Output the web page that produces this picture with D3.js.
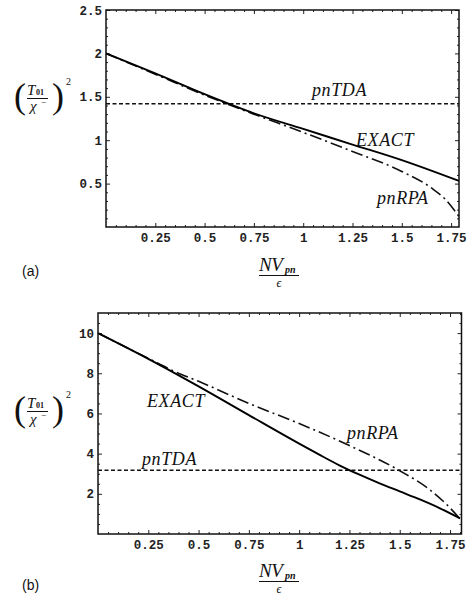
<!DOCTYPE html>
<html>
<head>
<meta charset="utf-8">
<script src="https://cdn.jsdelivr.net/npm/d3@7"></script>
<style>
  body { margin: 0; background: #fff; }
  svg { display: block; }
  .tick text { font-family: "Liberation Mono", "DejaVu Sans Mono", monospace; font-weight: bold; font-size: 12.5px; fill: #222; }
  .lbl { font-family: "Liberation Serif", "DejaVu Serif", serif; font-style: italic; font-size: 18px; fill: #111; }
  .tag { font-family: "Liberation Sans", Arial, sans-serif; font-size: 14px; fill: #111; }
</style>
</head>
<body>
<svg id="chart" width="473" height="595"></svg>
<script>
// panel (a)
const exactAX = [0, 0.25, 0.5, 0.75, 1.0, 1.25, 1.5, 1.79];
const exactAY = [2.0, 1.77, 1.53, 1.31, 1.13, 0.95, 0.77, 0.53];
const rpaAX = [0, 0.25, 0.5, 0.75, 1.0, 1.25, 1.5, 1.65, 1.72, 1.79];
const rpaAY = [2.0, 1.76, 1.52, 1.30, 1.09, 0.87, 0.64, 0.45, 0.32, 0.12];
const tdaA = 1.42;
const yTicksA = [0.5, 1, 1.5, 2, 2.5];

// panel (b)
const exactBX = [0, 0.25, 0.5, 0.75, 1.0, 1.1, 1.2, 1.3, 1.4, 1.5, 1.6, 1.7, 1.8];
const exactBY = [10, 8.72, 7.35, 5.92, 4.5, 3.95, 3.42, 2.95, 2.52, 2.12, 1.72, 1.28, 0.78];
const rpaBX = [0, 0.25, 0.37, 0.5, 0.75, 1.0, 1.25, 1.5, 1.65, 1.75, 1.8];
const rpaBY = [10, 8.74, 8.14, 7.6, 6.5, 5.5, 4.4, 3.15, 2.2, 1.3, 0.75];
const tdaB = 3.17;
const yTicksB = [2, 4, 6, 8, 10];

const xTicks = [0.25, 0.5, 0.75, 1, 1.25, 1.5, 1.75];

const svg = d3.select('#chart');

function zip(xs, ys) {
    return xs.map((x, i) => [x, ys[i]]);
}

function drawPanel(p) {
    const x = d3.scaleLinear().domain(p.xDom).range([p.left, p.right]);
    const y = d3.scaleLinear().domain(p.yDom).range([p.bottom, p.top]);
    const g = svg.append('g');

    // frame ticks, pointing inwards like Mathematica
    const fmt = d => String(d);
    const xMinor = d3.range(0.05, p.xDom[1], 0.05).filter(v => Math.abs(v / 0.25 - Math.round(v / 0.25)) > 1e-6);
    const yMinor = d3.range(p.yMinorStep, p.yDom[1], p.yMinorStep).filter(v => Math.abs(v / p.yMajorStep - Math.round(v / p.yMajorStep)) > 1e-6);

    const axes = [
        [d3.axisBottom(x).tickValues(xTicks).tickFormat(fmt).tickSize(-4).tickPadding(6), `translate(0,${p.bottom})`],
        [d3.axisBottom(x).tickValues(xMinor).tickFormat('').tickSize(-2), `translate(0,${p.bottom})`],
        [d3.axisTop(x).tickValues(xTicks).tickFormat('').tickSize(-4), `translate(0,${p.top})`],
        [d3.axisTop(x).tickValues(xMinor).tickFormat('').tickSize(-2), `translate(0,${p.top})`],
        [d3.axisLeft(y).tickValues(p.yTicks).tickFormat(fmt).tickSize(-4).tickPadding(4), `translate(${p.left},0)`],
        [d3.axisLeft(y).tickValues(yMinor).tickFormat('').tickSize(-2), `translate(${p.left},0)`],
        [d3.axisRight(y).tickValues(p.yTicks).tickFormat('').tickSize(-4), `translate(${p.right},0)`],
        [d3.axisRight(y).tickValues(yMinor).tickFormat('').tickSize(-2), `translate(${p.right},0)`]
    ];
    axes.forEach(([ax, tr]) => {
        const a = g.append('g').attr('transform', tr).call(ax);
        a.select('.domain').remove();
        a.selectAll('line').attr('stroke', '#222').attr('stroke-width', 1);
    });

    const line = d3.line().x(d => x(d[0])).y(d => y(d[1])).curve(d3.curveMonotoneX);

    g.append('line')
        .attr('x1', x(p.xDom[0])).attr('x2', x(p.xDom[1]))
        .attr('y1', y(p.tda)).attr('y2', y(p.tda))
        .attr('stroke', '#111').attr('stroke-width', 1.6).attr('stroke-dasharray', '4,2.5');

    g.append('path').datum(zip(p.rpaX, p.rpaY))
        .attr('d', line).attr('fill', 'none')
        .attr('stroke', '#111').attr('stroke-width', 1.6)
        .attr('stroke-dasharray', '12,4,2,4');

    g.append('path').datum(zip(p.exactX, p.exactY))
        .attr('d', line).attr('fill', 'none')
        .attr('stroke', '#000').attr('stroke-width', 1.9);

    g.append('rect')
        .attr('x', p.left).attr('y', p.top)
        .attr('width', p.right - p.left).attr('height', p.bottom - p.top)
        .attr('fill', 'none').attr('stroke', '#111').attr('stroke-width', 1.5);

    // curve labels
    p.labels.forEach(l => {
        g.append('text').attr('class', 'lbl')
            .attr('x', l.x).attr('y', l.y)
            .style('letter-spacing', '0.6px')
            .text(l.t);
    });

    // y axis title: (T01 / chi-)^2
    const yl = g.append('g').attr('transform', `translate(0,${p.yTitle})`);
    yl.append('text').attr('x', 14).attr('y', 11).attr('class', 'lbl')
        .style('font-style', 'normal').style('font-size', '36px').text('(');
    yl.append('text').attr('x', 52).attr('y', 11).attr('class', 'lbl')
        .style('font-style', 'normal').style('font-size', '36px').text(')');
    yl.append('text').attr('x', 27).attr('y', -2).attr('class', 'lbl')
        .style('font-size', '15px').text('T');
    yl.append('text').attr('x', 36).attr('y', -2).attr('class', 'lbl')
        .style('font-style', 'normal').style('font-weight', 'bold').style('font-size', '8px').text('01');
    yl.append('line').attr('x1', 27).attr('x2', 48).attr('y1', 1.5).attr('y2', 1.5)
        .attr('stroke', '#111').attr('stroke-width', 1);
    yl.append('text').attr('x', 30).attr('y', 14).attr('class', 'lbl')
        .style('font-size', '15px').text('χ');
    yl.append('text').attr('x', 41).attr('y', 8).attr('class', 'lbl')
        .style('font-style', 'normal').style('font-size', '9px').text('−');
    yl.append('text').attr('x', 66).attr('y', -12).attr('class', 'lbl')
        .style('font-style', 'normal').style('font-size', '10px').text('2');

    // x axis title: N V_pn / epsilon
    const xl = g.append('g').attr('transform', `translate(0,${p.xTitle})`);
    xl.append('text').attr('x', 259).attr('y', -3).attr('class', 'lbl')
        .style('font-size', '19px').style('letter-spacing', '-0.5px').text('NV');
    xl.append('text').attr('x', 285).attr('y', -1).attr('class', 'lbl')
        .style('font-weight', 'bold').style('font-size', '10px').text('pn');
    xl.append('line').attr('x1', 259).attr('x2', 299).attr('y1', 1.5).attr('y2', 1.5)
        .attr('stroke', '#111').attr('stroke-width', 1);
    xl.append('text').attr('x', 279).attr('y', 13).attr('class', 'lbl')
        .attr('text-anchor', 'middle').style('font-size', '12px').text('ϵ');

    g.append('text').attr('class', 'tag').attr('x', 22).attr('y', p.tagY).text(p.tag);
}

drawPanel({
    left: 106, right: 459, top: 10, bottom: 227,
    xDom: [0, 1.79], yDom: [0, 2.5],
    yTicks: yTicksA, yMajorStep: 0.5, yMinorStep: 0.1,
    exactX: exactAX, exactY: exactAY, rpaX: rpaAX, rpaY: rpaAY, tda: tdaA,
    labels: [{ t: 'pnTDA', x: 312, y: 96 }, { t: 'EXACT', x: 356, y: 146 }, { t: 'pnRPA', x: 377, y: 204 }],
    yTitle: 97, xTitle: 274, tag: '(a)', tagY: 276
});

drawPanel({
    left: 98, right: 461.5, top: 313, bottom: 534,
    xDom: [0, 1.807], yDom: [0, 11],
    yTicks: yTicksB, yMajorStep: 2, yMinorStep: 0.5,
    exactX: exactBX, exactY: exactBY, rpaX: rpaBX, rpaY: rpaBY, tda: tdaB,
    labels: [{ t: 'EXACT', x: 147, y: 407 }, { t: 'pnRPA', x: 347, y: 439 }, { t: 'pnTDA', x: 142, y: 465 }],
    yTitle: 410, xTitle: 580, tag: '(b)', tagY: 590
});
</script>
</body>
</html>
